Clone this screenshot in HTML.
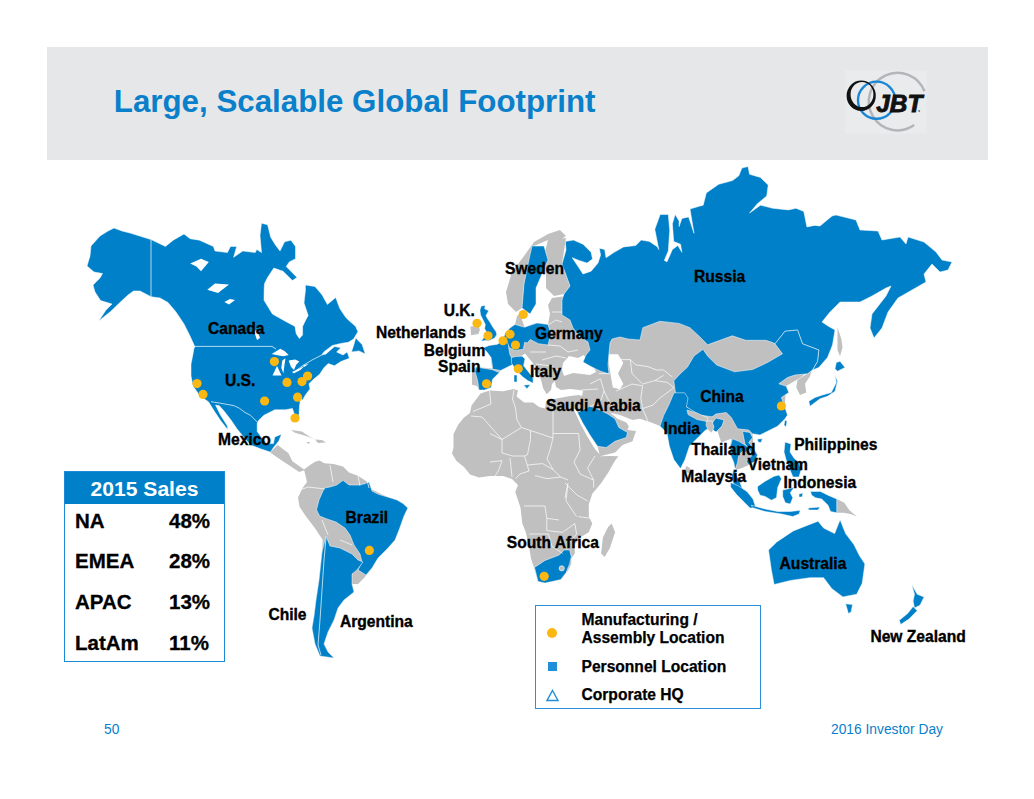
<!DOCTYPE html>
<html><head><meta charset="utf-8">
<style>
html,body{margin:0;padding:0;background:#fff;}
body{width:1034px;height:799px;position:relative;overflow:hidden;font-family:"Liberation Sans",sans-serif;}
.hdr{position:absolute;left:47px;top:47px;width:941px;height:113px;background:#e6e7e9;}
.title{position:absolute;left:113.8px;top:82px;font-size:31.3px;font-weight:bold;color:#0a7fca;white-space:nowrap;line-height:40px;}
svg{position:absolute;left:0;top:0;}
.lbl text{font-family:"Liberation Sans",sans-serif;font-weight:bold;font-size:15.6px;fill:#000;stroke:#000;stroke-width:0.35px;}
.sales{position:absolute;left:64px;top:471px;width:161px;height:190.5px;border:1.5px solid #1a8ad6;box-sizing:border-box;}
.sales .h{position:absolute;left:0;top:0;right:0;height:32px;background:#0080c8;color:#fff;font-weight:bold;font-size:21.1px;text-align:center;line-height:34px;}
.row{position:absolute;left:10px;font-weight:bold;font-size:20.5px;color:#000;-webkit-text-stroke:0.3px #000;}
.pct{position:absolute;left:104px;font-weight:bold;font-size:20.5px;color:#000;-webkit-text-stroke:0.3px #000;}
.legend{position:absolute;left:535px;top:604.5px;width:226px;height:104px;border:1.5px solid #2b90d6;box-sizing:border-box;}
.lt{position:absolute;left:45.5px;font-weight:bold;font-size:15.6px;color:#000;-webkit-text-stroke:0.25px #000;line-height:18px;white-space:nowrap;}
.foot{position:absolute;top:721.8px;font-size:13.8px;color:#0a80cc;}
</style></head><body>
<div class="hdr"></div>
<div class="title">Large, Scalable Global Footprint</div>
<svg width="1034" height="200" style="position:absolute;left:0;top:0">
<rect x="845" y="70.5" width="81.5" height="63" fill="#eaebed"/>
<path d="M914.2,125.1 A28.8,28.8 0 1 1 924.5,91.3" fill="none" stroke="#b4b5b8" stroke-width="2.5"/>
<circle cx="876.6" cy="100.2" r="18.6" fill="none" stroke="#1a86d6" stroke-width="2.4"/>
<path d="M846.6,95.8 A14.6,15.3 0 1 0 875.8,95.8 A14.6,15.3 0 1 0 846.6,95.8 Z M850.6,94.5 A11.4,12.6 0 1 0 873.4,94.5 A11.4,12.6 0 1 0 850.6,94.5 Z" fill="#111" fill-rule="evenodd"/>
<text x="876.3" y="112" font-family="Liberation Sans" font-weight="bold" font-style="italic" font-size="23.8" fill="#111" stroke="#111" stroke-width="0.9" textLength="46" lengthAdjust="spacingAndGlyphs">JBT</text>
<circle cx="919.2" cy="111" r="1" fill="#777"/>
</svg>
<svg width="1034" height="799" viewBox="0 0 1034 799" class="lbl">
<path d="M269.4,451.8 L272.0,450.4 L277.5,445.0 L279.0,446.0 L282.9,449.0 L288.3,453.1 L292.4,461.2 L301.9,468.0 L305.0,470.0 L299.1,472.0 L291.0,466.6 L282.9,461.2 L274.8,455.8 Z" fill="#c0c0c0"/>
<path d="M291.0,430.0 L301.9,431.4 L310.0,436.9 L315.4,439.6 L304.6,435.5 L295.0,432.8 Z" fill="#c0c0c0"/>
<path d="M315.0,439.5 L322.0,440.0 L326.0,442.4 L318.0,443.0 Z" fill="#c0c0c0"/>
<path d="M306.0,442.0 L310.0,442.0 L309.0,444.0 Z" fill="#c0c0c0"/>
<path d="M304.0,469.5 L310.0,465.0 L315.0,461.8 L319.6,460.5 L324.3,463.3 L333.6,464.0 L343.0,466.4 L349.0,472.6 L358.0,475.7 L367.6,482.0 L372.0,489.6 L380.0,493.5 L389.0,497.4 L397.0,500.0 L403.0,503.6 L407.8,508.0 L404.0,516.0 L399.0,530.0 L395.0,540.0 L388.0,548.0 L378.0,558.0 L372.0,568.0 L364.0,578.0 L358.0,584.0 L352.0,584.0 L354.0,592.0 L344.0,600.0 L338.0,608.0 L334.0,620.0 L328.0,632.0 L324.0,644.0 L328.0,652.0 L334.0,658.0 L320.0,656.0 L315.0,644.0 L312.0,628.0 L314.0,616.0 L316.0,600.0 L319.0,580.0 L322.0,552.0 L322.7,540.0 L315.0,528.3 L305.7,516.0 L299.5,506.7 L298.0,497.4 L302.6,488.0 L307.0,482.0 Z" fill="#c0c0c0"/>
<path d="M484.8,347.8 L492.0,345.0 L497.0,344.4 L502.7,341.0 L505.4,332.7 L510.0,328.0 L515.0,324.4 L517.0,316.0 L521.0,313.0 L522.0,320.0 L524.7,327.2 L530.0,325.0 L537.0,323.0 L548.0,324.4 L550.0,314.0 L548.0,305.0 L552.0,298.0 L566.0,296.0 L600.0,290.0 L640.0,300.0 L690.0,320.0 L720.0,335.0 L780.0,338.0 L800.0,345.0 L812.0,368.0 L800.0,378.0 L786.0,386.0 L784.0,419.0 L772.8,428.0 L761.6,432.6 L752.5,433.8 L753.8,448.8 L757.5,455.0 L755.0,461.3 L748.8,465.0 L742.0,468.0 L736.0,470.0 L733.8,462.5 L731.3,456.3 L730.0,447.5 L731.3,438.8 L721.3,442.5 L717.5,431.3 L708.0,428.0 L705.0,430.0 L698.5,437.0 L685.0,432.0 L667.0,433.0 L660.0,426.1 L651.3,422.6 L640.0,418.8 L632.5,420.0 L620.0,415.0 L610.0,412.5 L617.5,418.8 L626.3,422.5 L628.8,426.3 L627.5,430.0 L636.0,431.0 L632.5,441.3 L622.5,445.0 L615.0,452.5 L600.0,456.3 L597.5,446.3 L590.0,435.0 L582.5,422.5 L577.5,412.5 L576.0,409.0 L574.0,409.0 L574.0,410.0 L580.0,423.0 L587.0,436.0 L595.0,449.0 L601.2,456.3 L610.0,456.0 L618.4,456.3 L615.1,460.5 L608.1,472.8 L601.1,483.3 L592.3,493.8 L588.8,504.3 L588.8,516.6 L592.3,523.6 L588.8,532.3 L580.0,537.6 L574.8,544.6 L574.8,553.4 L571.3,558.6 L571.3,563.9 L567.8,570.9 L560.8,579.6 L545.0,583.1 L538.0,581.4 L534.5,569.1 L531.0,558.6 L529.3,548.1 L525.8,532.3 L522.3,523.6 L520.5,507.8 L515.3,492.0 L518.0,485.1 L512.0,479.0 L503.0,476.1 L489.6,476.1 L479.0,477.6 L470.0,474.6 L464.0,467.0 L456.5,461.0 L452.0,453.6 L453.5,447.5 L453.5,434.0 L458.0,425.0 L464.0,417.5 L470.0,413.0 L471.5,405.5 L480.5,393.5 L489.6,390.5 L503.0,391.3 L513.6,389.0 L518.0,390.5 L516.6,396.5 L524.1,402.5 L533.1,402.5 L539.1,407.0 L545.1,408.5 L546.0,401.0 L554.0,399.0 L570.0,396.0 L579.0,395.0 L582.0,396.0 L583.0,391.0 L580.0,390.0 L570.0,389.0 L561.0,390.0 L556.0,387.0 L554.8,381.0 L552.0,384.0 L551.0,390.0 L546.6,394.2 L543.0,388.0 L541.2,380.6 L536.0,368.0 L531.8,361.7 L525.0,353.5 L520.0,357.0 L512.8,364.4 L504.7,368.4 L500.6,370.5 L499.3,372.5 L492.5,379.3 L491.1,387.4 L484.4,390.1 L479.0,390.1 L477.0,386.0 L472.0,384.7 L472.0,369.8 L476.2,367.0 L492.0,368.5 L491.1,357.6 L487.0,352.0 Z" fill="#c0c0c0"/>
<path d="M506.0,292.0 L512.0,272.0 L524.0,256.0 L534.0,242.0 L548.0,234.0 L560.0,230.0 L566.0,236.0 L560.0,240.0 L548.0,240.0 L534.0,246.0 L528.0,264.0 L524.0,284.0 L522.0,308.0 L516.0,312.0 L508.0,304.0 Z" fill="#c0c0c0"/>
<path d="M548.0,240.0 L566.0,238.0 L562.0,264.0 L570.0,286.0 L564.0,294.0 L554.0,296.0 L546.0,288.0 L546.0,274.0 L544.0,256.0 Z" fill="#c0c0c0"/>
<path d="M470.4,326.4 L478.5,325.7 L479.9,329.8 L478.5,333.9 L471.1,335.2 Z" fill="#c0c0c0"/>
<path d="M611.6,523.6 L615.1,532.3 L609.9,548.1 L604.6,556.9 L601.1,553.4 L602.9,537.6 L608.1,527.1 Z" fill="#c0c0c0"/>
<path d="M836.8,499.0 L844.3,502.7 L849.4,510.3 L856.9,516.5 L850.6,514.0 L843.1,512.8 L836.8,512.8 Z" fill="#c0c0c0"/>
<path d="M686.0,466.0 L690.0,468.0 L689.0,473.0 L685.0,472.0 Z" fill="#c0c0c0"/>
<path d="M837.5,327.5 L841.3,338.8 L842.5,347.5 L840.0,356.3 L837.5,350.0 Z" fill="#c0c0c0"/>
<path d="M808.8,372.5 L797.5,380.0 L796.3,387.5 L800.0,395.0 L806.3,392.5 L805.0,383.8 L810.0,376.3 L811.3,371.3 Z" fill="#c0c0c0"/>
<path d="M707.6,344.8 L732.3,335.8 L745.8,340.3 L766.0,340.3 L772.5,342.5 L782.5,353.8 L767.5,362.5 L752.6,369.5 L734.6,371.8 L716.6,365.0 L707.6,356.0 Z" fill="#c0c0c0"/>
<path d="M563.0,363.0 L569.0,356.0 L578.0,358.0 L584.0,355.0 L587.0,362.0 L594.0,368.0 L596.0,372.0 L590.0,375.0 L582.0,374.0 L573.0,373.0 L564.0,376.0 L562.0,370.0 Z" fill="#fff"/>
<path d="M607.5,354.3 L618.0,354.3 L623.3,363.0 L618.0,373.6 L623.3,384.0 L619.8,389.3 L612.8,387.6 L611.0,377.0 L609.3,366.6 Z" fill="#fff"/>
<path d="M114.0,228.0 L122.0,231.0 L130.0,233.0 L151.0,239.6 L165.5,246.4 L173.2,240.2 L184.0,234.0 L190.2,238.7 L199.5,240.2 L213.4,246.4 L215.0,251.0 L227.4,252.6 L230.5,246.4 L236.7,246.4 L233.6,257.3 L242.8,251.0 L255.2,252.6 L256.8,249.5 L261.5,252.6 L260.0,235.6 L261.5,223.2 L267.6,224.8 L270.7,237.2 L275.4,244.9 L280.0,251.0 L284.6,241.8 L290.9,240.2 L295.5,246.4 L295.5,258.8 L289.3,261.9 L286.2,266.5 L297.0,277.4 L292.4,280.5 L283.0,271.2 L273.8,268.1 L267.6,277.4 L264.5,283.6 L264.1,290.6 L264.0,300.3 L272.4,314.0 L284.8,321.0 L295.0,326.4 L296.2,333.8 L299.4,338.6 L302.6,334.9 L302.6,326.4 L305.7,320.0 L308.2,315.4 L304.0,303.0 L305.4,290.6 L305.4,285.0 L315.0,286.5 L322.0,294.8 L327.4,304.4 L335.7,297.5 L339.8,308.5 L345.3,316.8 L348.3,320.0 L355.7,326.4 L357.9,331.7 L353.6,339.1 L348.3,342.3 L340.9,343.4 L332.3,345.5 L323.8,351.9 L321.7,355.1 L326.0,354.0 L334.5,346.6 L340.9,347.7 L336.6,351.9 L343.0,355.0 L347.2,351.9 L349.4,358.3 L340.9,361.5 L334.5,365.7 L328.1,363.6 L323.8,367.9 L319.6,374.3 L313.2,379.6 L309.0,383.8 L310.0,389.1 L305.7,394.5 L302.6,400.0 L300.5,398.0 L299.5,406.0 L299.1,413.8 L297.8,420.6 L295.0,416.0 L292.4,408.4 L285.6,409.8 L274.8,409.8 L263.9,415.2 L258.5,420.6 L257.2,423.3 L257.2,431.4 L261.2,436.9 L266.7,443.6 L273.4,443.6 L274.8,436.9 L281.5,434.2 L278.8,441.0 L273.4,447.7 L270.7,451.8 L269.4,451.8 L261.2,449.0 L250.4,445.0 L243.6,436.9 L236.9,428.7 L231.4,420.6 L224.0,411.0 L219.3,405.7 L215.5,405.0 L220.6,415.2 L227.4,426.0 L227.8,429.5 L226.0,427.4 L220.6,420.6 L215.2,412.5 L208.4,401.7 L200.0,396.0 L193.0,386.0 L191.0,376.0 L191.0,364.0 L193.0,354.0 L194.0,348.0 L195.0,347.0 L190.0,336.0 L184.0,324.0 L176.0,312.0 L168.0,302.5 L160.0,298.0 L151.0,296.7 L140.0,291.0 L133.5,291.0 L128.0,295.0 L122.0,300.6 L110.0,312.0 L98.7,321.0 L106.0,310.0 L112.0,304.0 L100.6,300.6 L95.0,292.0 L93.0,285.0 L100.0,278.0 L102.5,273.5 L94.0,272.0 L87.0,266.0 L90.0,256.0 L91.0,246.0 L100.0,236.0 L108.0,231.0 Z" fill="#0080c8" stroke="#fff" stroke-width="0.5"/>
<path d="M355.7,338.1 L362.1,344.5 L365.3,354.0 L359.0,350.9 L351.5,351.9 L353.6,345.5 Z" fill="#0080c8" stroke="#fff" stroke-width="0.5"/>
<path d="M316.5,509.8 L319.0,500.0 L324.3,488.0 L330.0,487.0 L336.7,485.0 L343.0,480.3 L349.0,485.0 L358.0,485.0 L364.0,484.0 L369.0,482.0 L372.0,491.0 L378.4,494.3 L389.0,497.4 L397.0,500.0 L403.0,503.6 L407.8,508.0 L404.0,516.0 L399.0,530.0 L395.0,540.0 L388.0,548.0 L378.0,558.0 L372.0,568.0 L366.0,575.0 L358.0,570.0 L362.0,562.0 L360.0,554.0 L354.0,545.0 L350.0,535.0 L345.0,528.0 L336.0,522.0 L327.0,519.0 L319.6,516.0 Z" fill="#0080c8" stroke="#fff" stroke-width="0.5"/>
<path d="M326.0,536.0 L330.0,546.0 L340.0,548.0 L352.0,554.0 L358.0,560.0 L363.0,562.0 L357.0,570.0 L352.0,574.0 L352.0,584.0 L354.0,592.0 L344.0,600.0 L338.0,608.0 L334.0,620.0 L328.0,632.0 L324.0,644.0 L328.0,652.0 L334.0,658.0 L320.0,656.0 L315.0,644.0 L312.0,628.0 L314.0,616.0 L316.0,600.0 L319.0,580.0 L322.0,552.0 Z" fill="#0080c8" stroke="#fff" stroke-width="0.5"/>
<path d="M565.4,241.4 L573.5,240.1 L583.0,244.2 L591.1,252.3 L592.5,259.0 L587.0,263.1 L579.0,260.4 L572.2,257.7 L577.6,265.8 L583.0,274.0 L591.1,271.2 L598.0,263.1 L600.6,255.0 L599.3,248.2 L604.7,249.6 L606.0,257.7 L614.2,252.3 L623.6,246.9 L635.8,245.5 L641.2,240.1 L649.4,241.4 L657.5,246.9 L658.8,249.6 L654.8,229.3 L660.2,214.4 L668.3,214.4 L669.7,230.6 L668.3,250.9 L664.3,260.4 L667.0,261.8 L672.4,249.6 L677.8,245.5 L681.9,252.3 L680.5,244.2 L673.7,241.4 L672.4,223.8 L675.1,214.4 L679.1,221.1 L679.1,226.6 L681.9,218.4 L688.6,217.0 L694.0,233.3 L690.0,209.0 L700.0,206.0 L703.2,205.2 L706.3,192.9 L718.7,184.3 L732.6,180.5 L738.8,175.8 L741.9,168.1 L748.0,166.5 L749.6,174.3 L760.5,177.4 L768.2,185.1 L766.7,196.0 L757.4,203.7 L749.6,213.0 L760.5,205.2 L772.8,208.3 L788.3,209.9 L796.0,208.3 L803.8,211.4 L806.9,226.9 L814.6,225.4 L820.0,226.0 L832.0,216.0 L836.0,215.0 L856.0,220.0 L860.0,230.0 L878.0,231.0 L882.0,240.0 L900.0,237.0 L906.0,244.0 L908.0,237.0 L924.0,242.0 L936.0,252.0 L942.0,260.0 L952.0,262.0 L948.0,270.0 L940.0,272.0 L932.0,264.0 L924.0,274.0 L926.0,282.0 L912.0,290.0 L898.0,298.0 L888.0,312.0 L882.0,328.0 L874.0,338.0 L870.0,328.0 L872.0,314.0 L886.0,296.0 L891.0,286.0 L886.0,288.0 L872.0,296.0 L860.0,302.0 L840.0,302.0 L830.0,312.0 L822.0,322.0 L828.0,326.0 L835.0,330.0 L832.5,345.0 L827.5,357.5 L818.8,367.5 L812.5,370.0 L817.5,361.3 L818.8,350.0 L802.5,343.8 L797.5,330.0 L785.0,331.3 L775.0,343.8 L772.5,342.5 L766.0,340.3 L745.8,340.3 L732.3,335.8 L707.6,344.8 L700.0,337.0 L690.0,327.7 L679.0,323.4 L659.8,321.3 L642.8,327.7 L640.0,340.0 L628.0,339.0 L620.0,337.0 L612.0,339.0 L610.0,343.0 L609.0,353.0 L608.0,365.0 L609.0,374.0 L600.0,371.0 L590.0,366.0 L583.0,362.0 L586.0,355.0 L590.0,350.0 L588.0,342.0 L580.0,337.0 L573.0,328.0 L570.0,320.0 L562.0,315.0 L562.0,300.0 L564.0,294.0 L570.0,286.0 L562.0,264.0 L566.0,250.0 Z" fill="#0080c8" stroke="#fff" stroke-width="0.5"/>
<path d="M673.8,380.8 L680.0,374.0 L687.3,367.3 L694.0,356.0 L703.0,349.3 L707.6,356.0 L716.6,365.0 L734.6,371.8 L752.6,369.5 L767.5,362.5 L782.5,353.8 L775.0,343.8 L785.0,331.3 L797.5,330.0 L802.5,343.8 L818.8,350.0 L817.5,361.3 L812.5,370.0 L807.5,373.8 L795.0,375.0 L787.5,377.5 L778.8,383.8 L786.3,386.3 L788.8,392.5 L781.3,397.5 L785.0,407.5 L787.5,415.0 L785.0,418.8 L777.5,426.3 L767.5,431.3 L760.0,435.0 L752.5,433.8 L748.8,430.0 L737.5,428.8 L731.3,417.5 L726.3,412.5 L716.0,414.0 L712.0,416.8 L696.3,414.6 L685.0,405.6 L676.0,396.6 Z" fill="#0080c8" stroke="#fff" stroke-width="0.5"/>
<path d="M674.0,392.8 L684.6,392.8 L688.0,398.0 L686.4,406.9 L695.0,412.0 L703.9,419.1 L712.6,422.6 L716.0,418.0 L724.0,420.0 L722.0,426.0 L716.0,432.0 L710.0,428.0 L705.3,430.3 L698.5,437.0 L689.5,446.0 L685.0,459.6 L680.5,468.6 L673.8,459.6 L669.3,446.0 L667.0,433.0 L660.0,426.1 L663.6,415.6 L668.8,405.1 Z" fill="#0080c8" stroke="#fff" stroke-width="0.5"/>
<path d="M732.5,438.8 L738.8,441.3 L745.0,445.0 L748.8,447.5 L746.3,452.5 L742.5,451.3 L738.8,455.0 L737.5,462.5 L735.0,470.0 L733.8,468.8 L731.3,477.5 L735.0,487.5 L740.0,495.0 L743.8,492.5 L740.0,482.5 L736.3,475.0 L733.8,462.5 L731.3,456.3 L730.0,447.5 Z" fill="#0080c8" stroke="#fff" stroke-width="0.5"/>
<path d="M742.5,431.3 L750.0,432.5 L752.5,437.5 L748.8,442.5 L753.8,448.8 L757.5,455.0 L755.0,461.3 L748.8,465.0 L746.3,461.3 L751.3,456.3 L750.0,450.0 L745.0,444.0 Z" fill="#0080c8" stroke="#fff" stroke-width="0.5"/>
<path d="M757.5,439.0 L762.5,438.8 L761.0,442.5 L758.0,442.0 Z" fill="#0080c8" stroke="#fff" stroke-width="0.5"/>
<path d="M785.0,420.0 L787.0,421.0 L786.0,427.0 L784.0,425.0 Z" fill="#0080c8" stroke="#fff" stroke-width="0.5"/>
<path d="M836.3,362.5 L840.0,361.3 L845.0,367.5 L837.5,371.3 L835.0,368.8 Z" fill="#0080c8" stroke="#fff" stroke-width="0.5"/>
<path d="M835.0,375.0 L836.3,382.5 L831.3,392.5 L822.5,395.0 L815.0,397.5 L808.8,401.3 L810.0,406.3 L815.0,402.5 L820.0,398.8 L827.5,396.3 L835.0,391.3 L837.5,381.3 Z" fill="#0080c8" stroke="#fff" stroke-width="0.5"/>
<path d="M785.0,442.0 L791.0,444.0 L790.0,452.0 L794.0,458.0 L799.0,463.0 L801.0,470.0 L799.0,477.0 L793.0,477.0 L790.0,470.0 L787.0,463.0 L784.0,452.0 Z" fill="#0080c8" stroke="#fff" stroke-width="0.5"/>
<path d="M730.6,482.6 L738.0,485.6 L747.0,491.6 L753.0,499.0 L756.0,508.0 L750.0,508.0 L744.0,502.0 L736.6,494.6 L730.6,487.0 Z" fill="#0080c8" stroke="#fff" stroke-width="0.5"/>
<path d="M751.3,505.2 L765.1,509.0 L777.7,511.5 L790.3,511.5 L800.3,510.3 L799.1,514.0 L792.8,516.5 L781.5,514.0 L765.1,511.5 L752.6,507.7 Z" fill="#0080c8" stroke="#fff" stroke-width="0.5"/>
<path d="M757.6,486.4 L765.1,481.3 L774.0,476.3 L779.0,475.0 L781.5,478.8 L777.7,487.6 L776.5,497.7 L771.4,500.2 L765.1,496.4 L760.1,495.2 L757.6,490.1 Z" fill="#0080c8" stroke="#fff" stroke-width="0.5"/>
<path d="M782.7,490.1 L794.1,487.6 L790.3,492.7 L792.8,497.7 L790.3,504.0 L785.3,502.7 L782.7,496.4 Z" fill="#0080c8" stroke="#fff" stroke-width="0.5"/>
<path d="M810.4,491.4 L820.5,491.4 L828.0,495.2 L836.8,499.0 L836.8,512.8 L830.5,511.5 L828.0,505.2 L821.7,499.0 L815.4,497.7 L811.7,495.2 Z" fill="#0080c8" stroke="#fff" stroke-width="0.5"/>
<path d="M799.0,494.0 L803.0,493.0 L802.0,497.0 L799.0,497.0 Z" fill="#0080c8" stroke="#fff" stroke-width="0.5"/>
<path d="M808.0,508.0 L820.0,507.0 L818.0,510.0 L809.0,510.0 Z" fill="#0080c8" stroke="#fff" stroke-width="0.5"/>
<path d="M481.2,306.1 L485.3,305.4 L484.6,308.8 L488.7,310.8 L486.0,315.6 L487.3,318.3 L490.0,322.3 L492.8,327.1 L496.1,331.8 L496.8,334.5 L494.8,337.9 L489.4,340.6 L484.6,340.6 L481.2,341.3 L484.6,336.6 L486.7,332.5 L484.6,328.4 L485.3,324.4 L482.6,319.0 L480.6,314.9 L479.9,310.2 Z" fill="#0080c8" stroke="#fff" stroke-width="0.5"/>
<path d="M483.0,348.0 L489.0,345.5 L497.0,344.4 L502.7,341.0 L508.7,342.0 L508.7,348.1 L510.0,354.9 L511.4,357.6 L512.8,364.4 L504.7,368.4 L500.6,370.5 L492.5,369.1 L492.5,367.0 L491.1,357.6 L487.0,352.0 Z" fill="#0080c8" stroke="#fff" stroke-width="0.5"/>
<path d="M502.7,341.0 L505.4,332.7 L510.0,328.0 L515.0,324.4 L520.0,326.0 L524.7,327.2 L528.8,325.8 L537.0,323.0 L548.0,324.4 L550.8,334.0 L548.0,345.0 L538.4,343.7 L530.2,339.5 L527.4,343.0 L524.7,342.3 L523.3,349.2 L515.0,350.5 L509.5,347.8 L506.8,341.0 Z" fill="#0080c8" stroke="#fff" stroke-width="0.5"/>
<path d="M511.4,357.6 L516.0,356.5 L522.3,356.2 L525.0,359.0 L523.6,365.7 L529.0,372.5 L533.1,377.9 L533.1,383.3 L527.7,380.6 L522.3,376.6 L516.9,371.1 L511.4,363.0 Z" fill="#0080c8" stroke="#fff" stroke-width="0.5"/>
<path d="M523.6,385.0 L530.4,384.7 L527.0,388.7 Z" fill="#0080c8" stroke="#fff" stroke-width="0.5"/>
<path d="M514.0,375.0 L517.0,375.0 L517.0,382.0 L514.0,382.0 Z" fill="#0080c8" stroke="#fff" stroke-width="0.5"/>
<path d="M476.2,367.0 L492.5,369.8 L499.3,372.5 L492.5,379.3 L491.1,387.4 L484.4,390.1 L479.0,390.1 L477.6,380.6 L474.9,371.1 Z" fill="#0080c8" stroke="#fff" stroke-width="0.5"/>
<path d="M532.0,246.0 L544.0,246.0 L548.0,260.0 L542.0,274.0 L536.0,288.0 L536.0,304.0 L530.0,314.0 L522.0,308.0 L524.0,284.0 L528.0,264.0 Z" fill="#0080c8" stroke="#fff" stroke-width="0.5"/>
<path d="M577.5,412.5 L590.0,406.0 L600.0,410.0 L607.5,413.8 L615.0,418.8 L618.8,427.5 L627.5,432.5 L626.3,437.5 L615.0,441.3 L606.3,447.5 L597.5,446.3 L590.0,435.0 L582.5,422.5 Z" fill="#0080c8" stroke="#fff" stroke-width="0.5"/>
<path d="M534.5,567.4 L545.0,560.4 L559.1,555.1 L564.3,549.9 L569.6,549.9 L571.3,556.9 L569.6,563.9 L566.1,572.6 L560.8,579.6 L545.0,583.1 L538.0,581.4 Z" fill="#0080c8" stroke="#fff" stroke-width="0.5"/>
<path d="M768.5,550.1 L776.8,541.9 L793.3,530.9 L807.1,525.4 L818.1,521.2 L823.6,528.1 L834.6,533.6 L840.1,519.8 L845.6,533.6 L853.9,544.6 L859.4,555.6 L864.9,563.9 L862.2,583.2 L856.7,594.2 L842.9,596.9 L831.9,588.7 L823.6,577.7 L809.8,577.7 L790.6,580.4 L774.1,584.5 L771.3,569.4 Z" fill="#0080c8" stroke="#fff" stroke-width="0.5"/>
<path d="M845.6,603.8 L852.5,604.6 L851.1,612.0 L848.4,613.5 Z" fill="#0080c8" stroke="#fff" stroke-width="0.5"/>
<path d="M911.7,584.6 L917.2,594.2 L924.1,597.0 L920.0,605.2 L914.5,608.0 L913.1,601.0 L914.5,594.2 Z" fill="#0080c8" stroke="#fff" stroke-width="0.5"/>
<path d="M913.1,606.6 L907.6,613.5 L899.3,620.3 L900.7,624.5 L909.0,619.0 L917.2,610.7 Z" fill="#0080c8" stroke="#fff" stroke-width="0.5"/>
<path d="M687.0,410.0 L697.0,413.0 L708.0,418.0 L707.0,421.5 L697.0,419.5 L688.0,414.5 Z" fill="#c0c0c0" stroke="#fff" stroke-width="0.5"/>
<path d="M706.5,421.0 L712.0,421.0 L714.0,427.0 L712.0,433.0 L708.0,430.0 L706.0,425.0 Z" fill="#c0c0c0" stroke="#fff" stroke-width="0.5"/>
<path d="M190.2,263.4 L201.0,258.8 L208.8,261.9 L201.0,271.2 L196.4,266.5 Z" fill="#fff"/>
<path d="M207.3,289.8 L215.0,283.6 L229.0,284.4 L218.0,292.9 Z" fill="#fff"/>
<path d="M224.4,302.0 L230.0,299.0 L235.0,300.0 L229.0,304.4 Z" fill="#fff"/>
<path d="M254.0,331.0 L257.0,330.0 L260.0,338.0 L257.0,340.0 Z" fill="#fff"/>
<path d="M271.7,354.0 L280.2,348.7 L284.5,350.9 L288.7,355.1 L283.4,356.2 L276.0,355.1 Z" fill="#fff"/>
<path d="M282.3,360.4 L285.5,358.3 L284.5,364.7 L283.4,373.2 L281.3,367.9 Z" fill="#fff"/>
<path d="M288.7,360.4 L295.1,359.4 L299.4,361.5 L296.2,364.7 L294.0,370.0 L290.9,366.8 Z" fill="#fff"/>
<path d="M291.9,372.1 L298.3,368.9 L304.7,365.7 L300.4,370.0 L294.0,373.2 Z" fill="#fff"/>
<path d="M302.6,365.7 L308.9,363.6 L304.7,366.8 Z" fill="#fff"/>
<path d="M151,239.6 L151,296.7" fill="none" stroke="#fff" stroke-width="0.7" stroke-linejoin="round"/>
<path d="M195,346.4 L272,346.4 L276,349" fill="none" stroke="#fff" stroke-width="0.7" stroke-linejoin="round"/>
<path d="M321.7,355.1 L312,360 L302.6,365.7 L294,372.1" fill="none" stroke="#fff" stroke-width="0.7" stroke-linejoin="round"/>
<path d="M326,538 L324,560 L322,590 L320,620 L318,645 L321,655" fill="none" stroke="#fff" stroke-width="0.7" stroke-linejoin="round"/>
<path d="M514,390 L512.5,399 L515.5,408 L517,420 L521.5,427.5 L530.5,430.5 L553,438" fill="none" stroke="#fff" stroke-width="0.7" stroke-linejoin="round"/>
<path d="M553,405 L553,438 L550,450 L547,459 L553,469.6 L560.6,477 L568,480" fill="none" stroke="#fff" stroke-width="0.7" stroke-linejoin="round"/>
<path d="M553,433.5 L578.6,433.5 L580,450 L574,462 L580,474 L593.6,480 L593.6,487.6" fill="none" stroke="#fff" stroke-width="0.7" stroke-linejoin="round"/>
<path d="M521.5,427.5 L502,439.5 L490,433.5" fill="none" stroke="#fff" stroke-width="0.7" stroke-linejoin="round"/>
<path d="M471,416 L482,417 L502,439.5" fill="none" stroke="#fff" stroke-width="0.7" stroke-linejoin="round"/>
<path d="M489.5,390.5 L491,404 L473,411.5" fill="none" stroke="#fff" stroke-width="0.7" stroke-linejoin="round"/>
<path d="M530.5,430.5 L530.5,439.5 L527.5,454.6 L524.5,456 L512.5,456 L502,453 L502,439.5" fill="none" stroke="#fff" stroke-width="0.7" stroke-linejoin="round"/>
<path d="M502,460.6 L490,462" fill="none" stroke="#fff" stroke-width="0.7" stroke-linejoin="round"/>
<path d="M499,469.6 L502,460.6" fill="none" stroke="#fff" stroke-width="0.7" stroke-linejoin="round"/>
<path d="M494.5,477 L499,469.6" fill="none" stroke="#fff" stroke-width="0.7" stroke-linejoin="round"/>
<path d="M510,458 L512,477" fill="none" stroke="#fff" stroke-width="0.7" stroke-linejoin="round"/>
<path d="M527.5,465 L542.5,463.6 L553,469.6" fill="none" stroke="#fff" stroke-width="0.7" stroke-linejoin="round"/>
<path d="M524.5,456 L529,471 L520,474 L515.5,478.6" fill="none" stroke="#fff" stroke-width="0.7" stroke-linejoin="round"/>
<path d="M535,475.6 L547,478.6 L560.6,477" fill="none" stroke="#fff" stroke-width="0.7" stroke-linejoin="round"/>
<path d="M595,456 L587.6,468 L593.6,480" fill="none" stroke="#fff" stroke-width="0.7" stroke-linejoin="round"/>
<path d="M565,483 L577,495 L587.6,501" fill="none" stroke="#fff" stroke-width="0.7" stroke-linejoin="round"/>
<path d="M568,483 L565,498" fill="none" stroke="#fff" stroke-width="0.7" stroke-linejoin="round"/>
<path d="M524,506 L545,506 L546.8,518.3 L559,520" fill="none" stroke="#fff" stroke-width="0.7" stroke-linejoin="round"/>
<path d="M546.8,518.3 L546.8,530.6 L562.6,532.3 L574.8,523.6" fill="none" stroke="#fff" stroke-width="0.7" stroke-linejoin="round"/>
<path d="M529.3,534 L548.5,534 L552,546.4 L562.6,553.4" fill="none" stroke="#fff" stroke-width="0.7" stroke-linejoin="round"/>
<path d="M578.3,516.6 L590.6,518.3" fill="none" stroke="#fff" stroke-width="0.7" stroke-linejoin="round"/>
<path d="M574.8,523.6 L576.6,534 L567.8,544.6" fill="none" stroke="#fff" stroke-width="0.7" stroke-linejoin="round"/>
<path d="M567.8,485 L566,500.8 L576.6,516.6" fill="none" stroke="#fff" stroke-width="0.7" stroke-linejoin="round"/>
<path d="M330,465 L333,482" fill="none" stroke="#fff" stroke-width="0.7" stroke-linejoin="round"/>
<path d="M308,487 L325,489" fill="none" stroke="#fff" stroke-width="0.7" stroke-linejoin="round"/>
<path d="M322,520 L328,535" fill="none" stroke="#fff" stroke-width="0.7" stroke-linejoin="round"/>
<path d="M300,490 L308,487" fill="none" stroke="#fff" stroke-width="0.7" stroke-linejoin="round"/>
<path d="M358,476 L360,486" fill="none" stroke="#fff" stroke-width="0.7" stroke-linejoin="round"/>
<path d="M367,480 L369,488" fill="none" stroke="#fff" stroke-width="0.7" stroke-linejoin="round"/>
<path d="M340,540 L352,545" fill="none" stroke="#fff" stroke-width="0.7" stroke-linejoin="round"/>
<path d="M548,345 L560,346 L568,352 L578,350" fill="none" stroke="#fff" stroke-width="0.7" stroke-linejoin="round"/>
<path d="M542,360 L556,356 L566,358" fill="none" stroke="#fff" stroke-width="0.7" stroke-linejoin="round"/>
<path d="M530,352 L546,352" fill="none" stroke="#fff" stroke-width="0.7" stroke-linejoin="round"/>
<path d="M536,364 L552,366 L560,372" fill="none" stroke="#fff" stroke-width="0.7" stroke-linejoin="round"/>
<path d="M548,325 L556,320 L562,322" fill="none" stroke="#fff" stroke-width="0.7" stroke-linejoin="round"/>
<path d="M552,312 L562,312" fill="none" stroke="#fff" stroke-width="0.7" stroke-linejoin="round"/>
<path d="M612.8,359.6 L630.3,359.6 L635.5,364.8 L647.8,366.6 L656.6,370 L663.6,370 L672.3,377" fill="none" stroke="#fff" stroke-width="0.7" stroke-linejoin="round"/>
<path d="M630.3,359.6 L632,373.6 L642.6,384 L654.8,380.6 L663.6,375.3" fill="none" stroke="#fff" stroke-width="0.7" stroke-linejoin="round"/>
<path d="M616.3,391 L632,384 L642.6,385.8 L640.8,398 L642.6,408.6 L647.8,420.9" fill="none" stroke="#fff" stroke-width="0.7" stroke-linejoin="round"/>
<path d="M654.8,380.6 L667,382.3 L674,387.6 L660,398 L653,405 L642.6,408.6" fill="none" stroke="#fff" stroke-width="0.7" stroke-linejoin="round"/>
<path d="M590,384 L600.5,378.8 L604,391 L611,405 L616.3,408.6" fill="none" stroke="#fff" stroke-width="0.7" stroke-linejoin="round"/>
<path d="M598.8,373.6 L609.3,373.6" fill="none" stroke="#fff" stroke-width="0.7" stroke-linejoin="round"/>
<path d="M581,390 L598,389" fill="none" stroke="#fff" stroke-width="0.7" stroke-linejoin="round"/>
<path d="M590,407 L601,400 L604,391" fill="none" stroke="#fff" stroke-width="0.7" stroke-linejoin="round"/>
<path d="M211,401.7 L219.3,403 L234.2,405.7 L239.6,408.4 L245,412.5 L250.4,415.2 L257.2,422" fill="none" stroke="#fff" stroke-width="0.7" stroke-linejoin="round"/>
<circle cx="561.7" cy="568.3" r="2.6" fill="#c0c0c0" stroke="#fff" stroke-width="0.6"/>
<circle cx="274.4" cy="361.6" r="4.6" fill="#fbb812"/>
<circle cx="197" cy="383.6" r="4.6" fill="#fbb812"/>
<circle cx="203" cy="394.4" r="4.6" fill="#fbb812"/>
<circle cx="287" cy="382.4" r="4.6" fill="#fbb812"/>
<circle cx="307.6" cy="376" r="4.6" fill="#fbb812"/>
<circle cx="302" cy="381.6" r="4.6" fill="#fbb812"/>
<circle cx="297.6" cy="397.2" r="4.6" fill="#fbb812"/>
<circle cx="264.6" cy="401" r="4.6" fill="#fbb812"/>
<circle cx="295" cy="418" r="4.6" fill="#fbb812"/>
<circle cx="477" cy="323.25" r="4.6" fill="#fbb812"/>
<circle cx="488" cy="335.75" r="4.6" fill="#fbb812"/>
<circle cx="503" cy="340.75" r="4.6" fill="#fbb812"/>
<circle cx="510" cy="334.25" r="4.6" fill="#fbb812"/>
<circle cx="515.5" cy="345" r="4.6" fill="#fbb812"/>
<circle cx="523.25" cy="314.5" r="4.6" fill="#fbb812"/>
<circle cx="518.25" cy="368.75" r="4.6" fill="#fbb812"/>
<circle cx="486.5" cy="383.75" r="4.6" fill="#fbb812"/>
<circle cx="369.4" cy="550.4" r="4.6" fill="#fbb812"/>
<circle cx="544.2" cy="576.3" r="4.6" fill="#fbb812"/>
<circle cx="781.4" cy="406" r="4.6" fill="#fbb812"/>
<path d="M277,366 L281.5,375.5 L272.5,375.5 Z" fill="#fff"/>
<text x="208" y="333.8">Canada</text>
<text x="225" y="386.3">U.S.</text>
<text x="218" y="444.8">Mexico</text>
<text x="345.6" y="522.8">Brazil</text>
<text x="268.4" y="619.8">Chile</text>
<text x="340" y="626.8">Argentina</text>
<text x="505" y="274.3">Sweden</text>
<text x="443.75" y="315.8">U.K.</text>
<text x="423.75" y="355.8">Belgium</text>
<text x="438" y="371.8">Spain</text>
<text x="535" y="339.3">Germany</text>
<text x="530" y="377.3">Italy</text>
<text x="546" y="410.8">Saudi Arabia</text>
<text x="506.8" y="548.0999999999999">South Africa</text>
<text x="694" y="281.8">Russia</text>
<text x="700.3" y="401.8">China</text>
<text x="663.6" y="434.3">India</text>
<text x="691.3" y="454.5">Thailand</text>
<text x="747.6" y="470.3">Vietnam</text>
<text x="681.2" y="482.2">Malaysia</text>
<text x="794.2" y="449.8">Philippines</text>
<text x="783.4" y="488.3">Indonesia</text>
<text x="779.6" y="568.8">Australia</text>
<text x="870.4" y="642.1999999999999">New Zealand</text>
<text x="466" y="337.8" text-anchor="end">Netherlands</text>
</svg>
<div class="sales"><div class="h">2015 Sales</div>
<div class="row" style="top:36.5px">NA</div><div class="pct" style="top:36.5px">48%</div>
<div class="row" style="top:77px">EMEA</div><div class="pct" style="top:77px">28%</div>
<div class="row" style="top:118.2px">APAC</div><div class="pct" style="top:118.2px">13%</div>
<div class="row" style="top:158.5px">LatAm</div><div class="pct" style="top:158.5px">11%</div>
</div>
<div class="legend">
<div style="position:absolute;left:11.3px;top:22.5px;width:10px;height:10px;border-radius:50%;background:#fbb812"></div>
<div style="position:absolute;left:11.7px;top:56.2px;width:9.5px;height:9px;background:#1e8fd8"></div>
<svg style="position:absolute;left:10px;top:83px" width="14" height="14"><path d="M6.5,1.5 L12,11.5 L1,11.5 Z" fill="none" stroke="#1e8fd8" stroke-width="1.4"/></svg>
<div class="lt" style="top:5.8px">Manufacturing /<br>Assembly Location</div>
<div class="lt" style="top:52.5px">Personnel Location</div>
<div class="lt" style="top:80px">Corporate HQ</div>
</div>
<div class="foot" style="left:104px">50</div>
<div class="foot" style="left:831px">2016 Investor Day</div>
</body></html>
